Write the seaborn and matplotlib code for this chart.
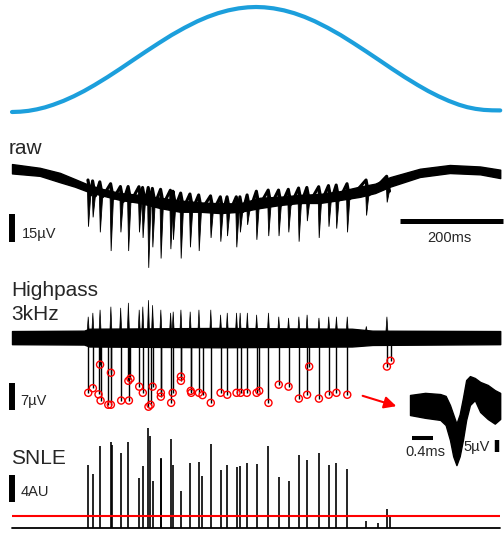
import matplotlib.pyplot as plt
import seaborn as sns

W, H = 504, 533

# stimulus waveform on top (time in ms, normalised amplitude)
stim_t = [0, 16, 32, 48, 64, 80, 100, 120, 140, 160, 185, 210, 235, 260, 285, 310,
          335, 360, 380, 400, 420, 440, 458, 474, 490, 508, 528, 548, 568, 588,
          613, 638, 663, 688, 713, 738, 763, 788, 808, 828, 848, 868, 884, 900,
          916, 932, 948]
stim_v = [0.0, 0.003, 0.011, 0.025, 0.044, 0.069, 0.106, 0.150, 0.200, 0.256, 0.331,
          0.411, 0.494, 0.576, 0.656, 0.733, 0.802, 0.864, 0.906, 0.941, 0.968,
          0.987, 0.997, 1.0, 0.997, 0.987, 0.968, 0.941, 0.906, 0.864, 0.802,
          0.733, 0.656, 0.576, 0.494, 0.411, 0.331, 0.256, 0.200, 0.150, 0.106,
          0.069, 0.046, 0.030, 0.020, 0.016, 0.015]

# spike events (ms) shared by the three traces
spike_t = [148, 157, 171, 192, 211, 226, 247, 254, 265, 273, 289, 308, 313, 328,
           346, 363, 386, 405, 418, 436, 443, 457, 475, 498, 518, 537, 557, 573,
           596, 615, 630, 651, 688, 728]
raw_top = [-8, -8.5, -9, -10, -11.5, -11.5, -11.6, -12, -12, -12.5, -13, -13.5, -14,
           -15, -15.5, -16, -16.5, -17, -17, -17, -17, -16, -14, -13.4, -13.4, -13,
           -12.3, -12, -11.6, -11, -10.7, -10, -8, -6]
raw_tip = [-33, -28, -36, -46, -36, -46, -36, -39, -55, -44, -50, -45, -40, -50,
           -44, -46, -39, -41, -38, -44, -36, -32, -40, -38, -38, -36, -41, -30,
           -39, -33, -34, -36, -27, -20]
raw_drop = 8  # trace sits this far below the band top right after a spike
hp_up = [5.5, 6.5, 7.3, 8.1, 7.8, 9.1, 7.3, 8.1, 9.8, 8.5, 7.3, 6.5, 6.8, 7.3,
         6.8, 7.3, 7.3, 6.0, 6.5, 6.5, 6.5, 6.5, 6.0, 6.5, 5.5, 5.2, 5.5, 6.0,
         5.2, 5.5, 5.5, 5.5, 3.0, 5.5]
snle_peak = [9.3, 8.0, 12.1, 12.6, 11.1, 12.7, 7.3, 9.1, 14.7, 6.9, 10.1, 13.1, 9.3,
             5.4, 9.6, 9.7, 12.4, 8.5, 9.2, 9.0, 9.1, 9.6, 9.4, 12.1, 7.5, 6.9,
             10.7, 10.0, 11.1, 9.3, 9.5, 8.7, 0.9, 2.8]
snle_extra_t = [194, 267, 290, 368, 710, 734]
snle_extra_v = [12.2, 13.5, 10.3, 7.6, 0.6, 1.6]
snle_thresh = 1.75

# detected spikes (red circles) on the highpass trace
circle_t = [148, 157, 168, 172, 171, 192, 187, 192, 212, 226, 230, 227, 247, 254,
            265, 269, 273, 289, 289, 309, 312, 328, 328, 347, 348, 363, 370, 386,
            405, 418, 436, 444, 456, 475, 480, 498, 518, 537, 557, 573, 577, 596,
            615, 630, 651, 728, 735]
circle_v = [-14.2, -13.0, -14.6, -16.2, -6.9, -9.0, -17.3, -17.3, -16.2, -11.1,
            -10.5, -16.2, -12.6, -14.2, -17.8, -17.3, -12.6, -14.2, -15.2, -16.8,
            -14.2, -10.0, -11.1, -13.7, -14.2, -14.2, -14.8, -16.8, -14.2, -14.7,
            -14.2, -14.2, -14.2, -14.2, -13.7, -16.8, -12.1, -12.6, -15.7, -14.7,
            -7.4, -15.7, -14.7, -14.2, -14.7, -7.4, -5.9]

# noise band of the raw trace (uV)
raw_env_t = [0, 54, 93, 122, 148, 171, 210, 249, 287, 326, 365, 404, 443, 482,
             520, 559, 598, 637, 676, 705, 734, 792, 850, 909, 948]
raw_env_hi = [0.5, -1.5, -4.2, -7.5, -10.5, -12.5, -15.0, -16.0, -17.5, -19.0,
              -20.0, -20.5, -20.5, -17.5, -17.0, -16.0, -15.5, -14.0, -11.5, -10.0,
              -6.5, -2.0, 0.0, -0.8, -2.5]
raw_env_lo = [-4.5, -5.8, -9.2, -11.6, -14.3, -16.0, -18.7, -20.3, -23.0, -25.0,
              -25.0, -25.7, -25.0, -23.0, -21.4, -20.3, -20.3, -18.7, -17.0, -15.0,
              -11.6, -6.4, -4.3, -5.0, -7.0]

# noise band of the highpass trace (uV)
hp_env_t = [0, 140, 150, 400, 660, 700, 948]
hp_env_hi = [1.8, 1.9, 2.4, 2.6, 2.4, 1.9, 1.8]
hp_env_lo = [-1.6, -1.7, -2.2, -2.4, -2.2, -1.8, -1.6]

# overlaid spike waveforms in the inset (ms, uV)
wave_t = [0, 0.28, 0.56, 0.66, 0.74, 0.80, 0.86, 0.92, 0.98, 1.04, 1.11, 1.20,
          1.30, 1.44, 1.57, 1.67]
wave_hi = [4.3, 5.2, 4.7, 3.9, 0.0, -4.0, -8.0, -4.0, 3.0, 10.7, 12.4, 11.6, 9.9,
           8.6, 6.4, 5.2]
wave_lo = [-4.3, -5.5, -6.4, -8.6, -15.0, -22.0, -25.8, -22.0, -15.0, -6.4, 0.0,
           2.1, -3.0, -6.0, -8.0, -6.0]

sns.set_theme(style="white")
plt.rcParams["font.family"] = ["Liberation Sans", "DejaVu Sans"]

fig = plt.figure(figsize=(W / 100, H / 100), dpi=100)

PX_MS = 0.515
X0 = 12
XLIM = (-X0 / PX_MS, (W - X0) / PX_MS)


def panel(top, bottom, y0, scale, left=0, right=W, xlim=XLIM):
    # axes placed in pixel coordinates, y0 = pixel row of value 0
    ax = fig.add_axes([left / W, 1 - bottom / H, (right - left) / W, (bottom - top) / H])
    ax.set_xlim(*xlim)
    ax.set_ylim((y0 - bottom) / scale, (y0 - top) / scale)
    ax.axis("off")
    return ax


def label(x, y, s, size=10.5, **kw):
    fig.text(x / W, 1 - y / H, s, fontsize=size, va="baseline", **kw)


# Stimulus
ax_s = panel(0, 125, 112, 105)
sns.lineplot(x=stim_t, y=stim_v, ax=ax_s, color="#1c9fdc", lw=3)

# Raw trace: noise band, sawtooth between spikes, spike downstrokes
ax_r = panel(125, 275, 165, 1.87)
ax_r.fill_between(raw_env_t, raw_env_lo, raw_env_hi, color="black", lw=1.0)
saw_x, saw_y = [], []
for t, top in zip(spike_t, raw_top):
    saw_x += [t - 0.5, t + 5]
    saw_y += [top, top - raw_drop]
ax_r.plot(saw_x, saw_y, color="black", lw=2.2)
for t, top, tip in zip(spike_t, raw_top, raw_tip):
    ax_r.fill([t - 2, t + 0.5, t + 5], [top, tip, top - raw_drop], color="black", lw=0.6)
ax_r.vlines(-0.5, -41, -26, color="black", lw=4.3)
ax_r.hlines(-29.7, 753, 953, color="black", lw=3.6)
label(9, 154, "raw", size=15)
label(21.5, 238, "15µV")
label(449, 241.5, "200ms", ha="center")

# Highpass trace
ax_h = panel(275, 420, 338, 3.86)
ax_h.fill_between(hp_env_t, hp_env_lo, hp_env_hi, color="black", lw=1.0)
for t, up in zip(spike_t, hp_up):
    ax_h.fill([t - 2, t, t + 2], [1.5, up, 1.5], color="black", lw=0.5)
ax_h.vlines(circle_t, 0, circle_v, color="black", lw=1.0)
ax_h.scatter(circle_t, circle_v, s=26, facecolors="none", edgecolors="red",
             linewidths=1.0, zorder=3)
ax_h.vlines(0, -18.7, -11.7, color="black", lw=4.3)
ax_h.annotate("", xy=(399, H - 407), xytext=(360, H - 395), xycoords="figure pixels",
              arrowprops=dict(arrowstyle="-|>", color="red", lw=1.5, mutation_scale=18))
label(11.5, 296.5, "Highpass", size=15)
label(11.5, 320, "3kHz", size=15)
label(20.5, 405, "7µV")

# Inset waveforms
ax_w = panel(370, 470, 405, 2.33, left=400, right=W,
             xlim=((400 - 410) / 54, (W - 410) / 54))
ax_w.fill_between(wave_t, wave_lo, wave_hi, color="black", lw=1.0)
ax_w.hlines(-14.3, 0.03, 0.43, color="black", lw=2.9)
ax_w.vlines(1.62, -20, -15, color="black", lw=3.2)
label(425, 456, "0.4ms", ha="center")
label(463, 451.5, "5µV")

# SNLE trace
ax_n = panel(420, H, 527.5, 6.75)
sns.lineplot(x=[0, 948], y=[0, 0], ax=ax_n, color="black", lw=1.3)
ax_n.vlines(spike_t, 0, snle_peak, color="black", lw=1.2)
ax_n.vlines(snle_extra_t, 0, snle_extra_v, color="black", lw=1.2)
ax_n.hlines(snle_thresh, 0, 948, color="red", lw=1.5, zorder=3)
ax_n.vlines(0, 3.8, 7.8, color="black", lw=4.3)
label(11.5, 463.5, "SNLE", size=15)
label(20.5, 496, "4AU")

fig.savefig("out.png", dpi=100)
